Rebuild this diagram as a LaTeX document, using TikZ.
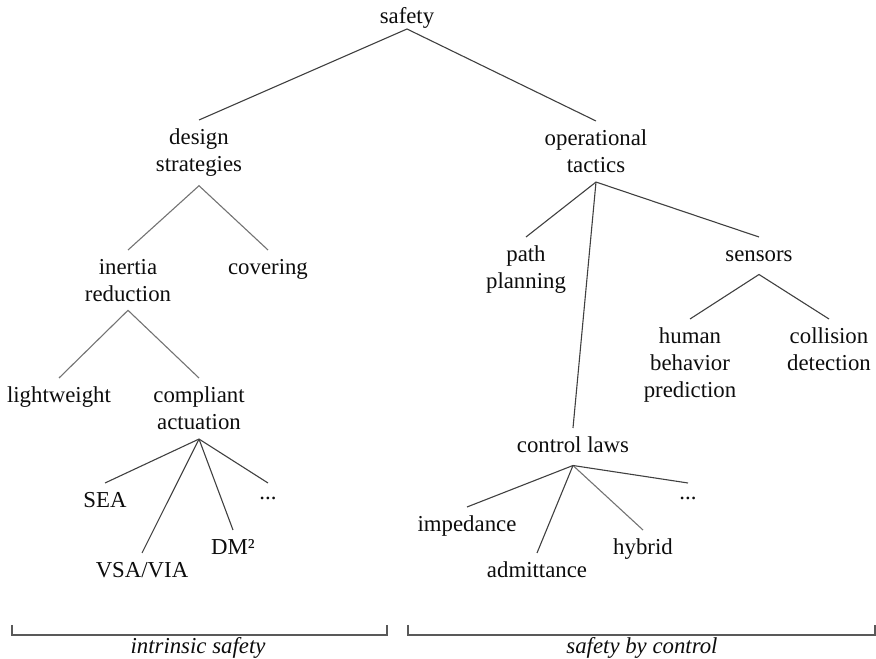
\documentclass[tikz,border=0pt]{standalone}
\usepackage{fontspec}
\setmainfont{Liberation Serif}
\begin{document}
\begin{tikzpicture}[x=1pt,y=1pt,
  every node/.style={font=\fontsize{22.8}{27}\selectfont, text=black!95, inner xsep=2pt, inner ysep=9pt, outer sep=0pt, align=center},
  one/.style={text height=15.5pt, text depth=4pt},
  dotsnode/.style={text height=8pt, text depth=0pt},
  edge/.style={draw=black!75, line width=1.1pt},
  lightedge/.style={draw=black!55, line width=1.1pt},
  brack/.style={draw=black!65, line width=1.1pt},
  lab/.style={font=\fontsize{22.8}{27}\selectfont\itshape, inner sep=0pt}]
\useasboundingbox (0,0) rectangle (876,659);
% nodes
\node[anchor=south, inner ysep=1pt, one] (safety) at (407,630) {safety};
\node[anchor=north] (ds) at (199,539) {design\\strategies};
\node[anchor=north] (ot) at (596,538) {operational\\tactics};
\node[anchor=north] (ir) at (128,409) {inertia\\reduction};
\node[anchor=north, one] (cov) at (268,409) {covering};
\node[anchor=north, one] (lw) at (59,281) {lightweight};
\node[anchor=north] (ca) at (199,281) {compliant\\actuation};
\node[anchor=north, one] (sea) at (105,176) {SEA};
\node[anchor=north, one] (vsa) at (142,106) {VSA/VIA};
\node[anchor=north, one] (dm) at (233,129) {DM²};
\node[anchor=north, dotsnode] (dA) at (268,176) {...};
\node[anchor=north] (pp) at (526,422) {path\\planning};
\node[anchor=north, one] (sen) at (759,422) {sensors};
\node[anchor=north] (hbp) at (690,340) {human\\behavior\\prediction};
\node[anchor=north] (cd) at (829,340) {collision\\detection};
\node[anchor=north, one] (cl) at (573,231) {control laws};
\node[anchor=north, one] (imp) at (467,152) {impedance};
\node[anchor=north, one] (adm) at (537,106) {admittance};
\node[anchor=north, one] (hyb) at (643,129) {hybrid};
\node[anchor=north, dotsnode] (dB) at (688,176) {...};
% connectors
\draw[edge] (ds.north) -- (safety.south) -- (ot.north);
\draw[lightedge] (ir.north) -- (ds.south) -- (cov.north);
\draw[lightedge] (lw.north) -- (ir.south) -- (ca.north);
\draw[edge] (ca.south) -- (sea.north);
\draw[edge] (ca.south) -- (vsa.north);
\draw[edge] (ca.south) -- (dm.north);
\draw[edge] (ca.south) -- (dA.north);
\draw[edge] (ot.south) -- (pp.north);
\draw[edge] (ot.south) -- (sen.north);
\draw[edge] (ot.south) -- (cl.north);
\draw[edge] (hbp.north) -- (sen.south) -- (cd.north);
\draw[edge] (cl.south) -- (imp.north);
\draw[edge] (cl.south) -- (adm.north);
\draw[lightedge] (cl.south) -- (hyb.north);
\draw[edge] (cl.south) -- (dB.north);
% brackets
\coordinate (b1a) at (12,34);
\coordinate (b1b) at (387,34);
\coordinate (b2a) at (408,34);
\coordinate (b2b) at (875,34);
\draw[brack] (b1a) -- ++(0,-10) -| (b1b);
\draw[brack] (b2a) -- ++(0,-10) -| (b2b);
\node[lab] (is) at (198,11) {intrinsic safety};
\node[lab] (sc) at (642,11) {safety by control};
\end{tikzpicture}
\end{document}
